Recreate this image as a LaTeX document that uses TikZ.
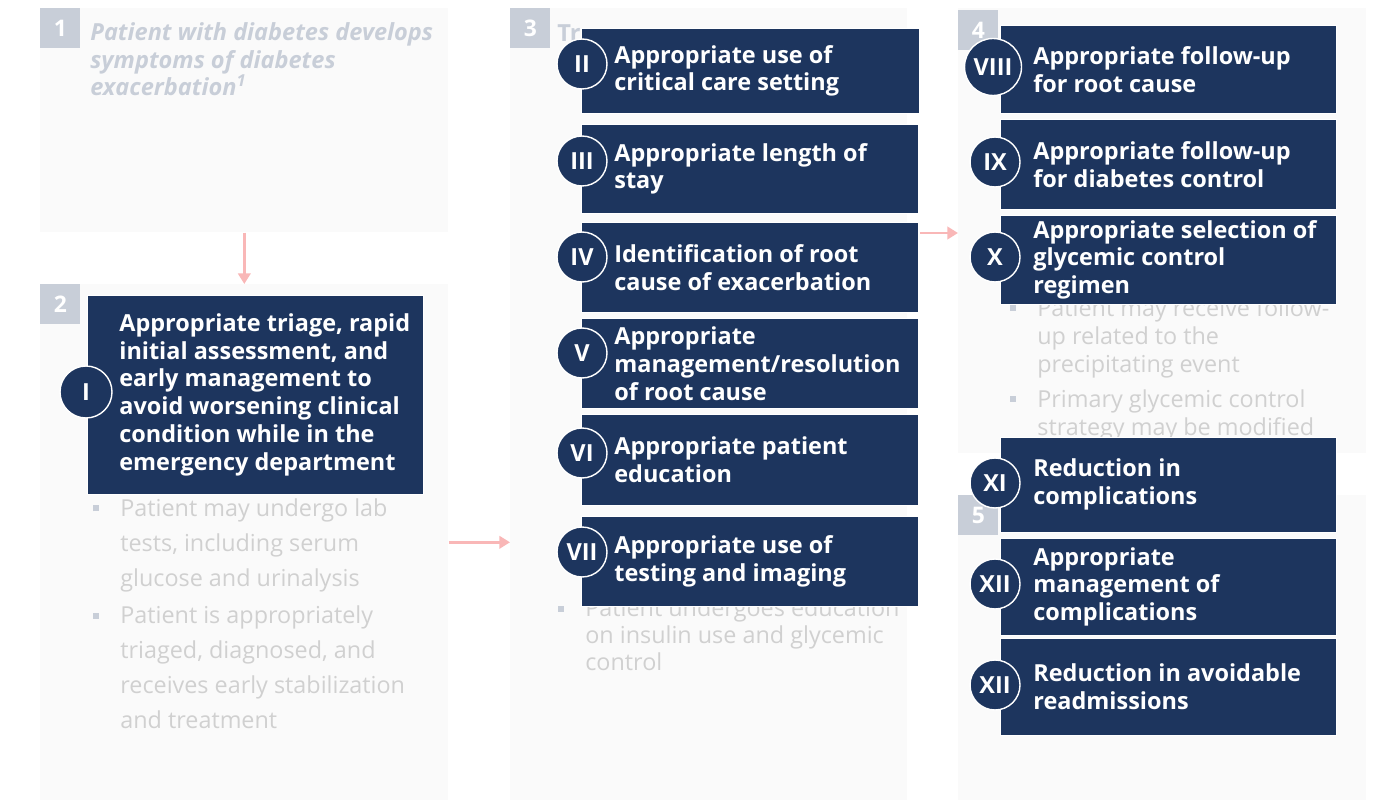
\documentclass[tikz,border=0pt]{standalone}
\usepackage{fontspec}
\setmainfont{Open Sans}
\usetikzlibrary{arrows.meta}

\definecolor{navy}{HTML}{1D355E}
\definecolor{panelbg}{HTML}{FAFAFA}
\definecolor{badgec}{HTML}{C8CED8}
\definecolor{fadetext}{HTML}{D0D0D0}
\definecolor{arrowc}{HTML}{F9B7B7}

\newcommand{\sqbullet}{\llap{\textcolor{badgec}{\rule[0.22em]{0.12cm}{0.12cm}}\hspace{0.42cm}}}

\begin{document}
\begin{tikzpicture}[x=0.02cm,y=-0.02cm,
  panel/.style={fill=panelbg, anchor=north west, inner sep=0},
  badge/.style={fill=badgec, anchor=north west, minimum size=0.8cm, inner sep=0, text=white, font=\bfseries\fontsize{13}{15}\selectfont},
  box/.style={fill=navy, draw=white, line width=0.4pt, anchor=north west, inner sep=0, minimum width=6.74cm},
  lbl/.style={anchor=west, align=left, text=white, inner sep=0, font=\bfseries\fontsize{13.35}{15.9}\selectfont},
  num/.style={circle, fill=navy, draw=white, line width=0.8pt, minimum size=1cm, inner sep=0, text=white, font=\bfseries\fontsize{13.4}{15}\selectfont},
  faded/.style={anchor=base west, align=left, inner sep=0, text=fadetext, font=\fontsize{13.3}{19.8}\selectfont},
  arr/.style={draw=arrowc, line width=1.7pt, -{Triangle[width=7pt,length=6pt]}}]

\useasboundingbox (0,0) rectangle (1398,807);

% stage panels
\node[panel, minimum width=8.16cm, minimum height=4.48cm]  (p1) at (40,8)   {};
\node[panel, minimum width=8.16cm, minimum height=10.32cm] (p2) at (40,284) {};
\node[panel, minimum width=7.94cm, minimum height=15.84cm] (p3) at (510,8)  {};
\node[panel, minimum width=8.16cm, minimum height=8.9cm]   (p4) at (958,8)  {};
\node[panel, minimum width=8.16cm, minimum height=6.1cm]   (p5) at (958,495) {};

\node[badge] (s1) at (p1.north west) {1};
\node[badge] (s2) at (p2.north west) {2};
\node[badge] (s3) at (p3.north west) {3};
\node[badge] (s4) at (958,10) {4};
\node[badge] (s5) at (p5.north west) {5};

% faded text of the stages (anchored at the baseline of the last line)
\node[faded, text=badgec, font=\bfseries\itshape\fontsize{13.4}{15.9}\selectfont] (h1) at (90,96)
  {Patient with diabetes develops\\symptoms of diabetes\\exacerbation\textsuperscript{1}};
\node[faded, text=badgec, font=\bfseries\fontsize{13.4}{15.9}\selectfont] (h3) at (557,42) {Tr};
\node[faded] (c2a) at (120,586) {\sqbullet Patient may undergo lab\\tests, including serum\\glucose and urinalysis};
\node[faded] (c2b) at (120,728) {\sqbullet Patient is appropriately\\triaged, diagnosed, and\\receives early stabilization\\and treatment};
\node[faded, font=\fontsize{13.3}{15.1}\selectfont] (c3a) at (585,670) {\sqbullet Patient undergoes education\\on insulin use and glycemic\\control};
\node[faded, font=\fontsize{13.3}{15.9}\selectfont] (c4a) at (1037,372) {\sqbullet Patient may receive follow-\\up related to the\\precipitating event};
\node[faded, font=\fontsize{13.3}{15.9}\selectfont] (c4b) at (1037,435) {\sqbullet Primary glycemic control\\strategy may be modified};

% flow arrows
\draw[arr] (p1.south) -- (p2.north);
\draw[arr] (p2.east) -- (p2.east -| p3.west);
\coordinate (a34) at (920,233);
\draw[arr] (a34) -- (a34 -| p4.west);

% measures
\node[box, minimum width=6.72cm, minimum height=3.98cm] (b1) at (87,295) {};
\node[lbl] (t1) at ([xshift=0.64cm]b1.west) {Appropriate triage, rapid\\initial assessment, and\\early management to\\avoid worsening clinical\\condition while in the\\emergency department};
\node[num, minimum size=1.04cm] (n1) at (86,392) {I};

\node[box, minimum width=6.76cm, minimum height=1.7cm] (b2) at (581,28) {};
\node[lbl] (t2) at ([xshift=0.66cm]b2.west) {Appropriate use of\\critical care setting};
\node[num] (n2) at (582,64) {II};

\node[box, minimum height=1.78cm] (b3) at (581,124) {};
\node[lbl] (t3) at ([xshift=0.66cm]b3.west) {Appropriate length of\\stay};
\node[num] (n3) at (582,161) {III};

\node[box, minimum height=1.8cm] (b4) at (581,222) {};
\node[lbl] (t4) at ([xshift=0.66cm]b4.west) {Identification of root\\cause of exacerbation};
\node[num] (n4) at (582,257) {IV};

\node[box, minimum height=1.8cm] (b5) at (581,318) {};
\node[lbl] (t5) at ([xshift=0.66cm]b5.west) {Appropriate\\management/resolution\\of root cause};
\node[num] (n5) at (582,353) {V};

\node[box, minimum height=1.82cm] (b6) at (581,414) {};
\node[lbl] (t6) at ([xshift=0.66cm]b6.west) {Appropriate patient\\education};
\node[num] (n6) at (582,453) {VI};

\node[box, minimum height=1.8cm] (b7) at (581,516) {};
\node[lbl] (t7) at ([xshift=0.66cm]b7.west) {Appropriate use of\\testing and imaging};
\node[num] (n7) at (582,552) {VII};

\node[box, minimum width=6.72cm, minimum height=1.76cm] (b8) at (1000,25) {};
\node[lbl] (t8) at ([xshift=0.66cm]b8.west) {Appropriate follow-up\\for root cause};
\node[num, minimum size=1.14cm] (n8) at (993,67) {VIII};

\node[box, minimum width=6.72cm, minimum height=1.8cm] (b9) at (1000,119) {};
\node[lbl] (t9) at ([xshift=0.66cm]b9.west) {Appropriate follow-up\\for diabetes control};
\node[num] (n9) at (995,162) {IX};

\node[box, minimum width=6.72cm, minimum height=1.78cm] (b10) at (1000,215) {};
\node[lbl] (t10) at ([xshift=0.66cm]b10.west) {Appropriate selection of\\glycemic control\\regimen};
\node[num] (n10) at (995,257) {X};

\node[box, minimum width=6.72cm, minimum height=1.9cm] (b11) at (1000,437) {};
\node[lbl] (t11) at ([xshift=0.66cm]b11.west) {Reduction in\\complications};
\node[num] (n11) at (995,483) {XI};

\node[box, minimum width=6.72cm, minimum height=1.94cm] (b12) at (1000,538) {};
\node[lbl] (t12) at ([xshift=0.66cm]b12.west) {Appropriate\\management of\\complications};
\node[num] (n12) at (995,584) {XII};

\node[box, minimum width=6.72cm, minimum height=1.94cm] (b13) at (1000,638) {};
\node[lbl] (t13) at ([xshift=0.66cm]b13.west) {Reduction in avoidable\\readmissions};
\node[num] (n13) at (995,685) {XII};

\end{tikzpicture}
\end{document}
